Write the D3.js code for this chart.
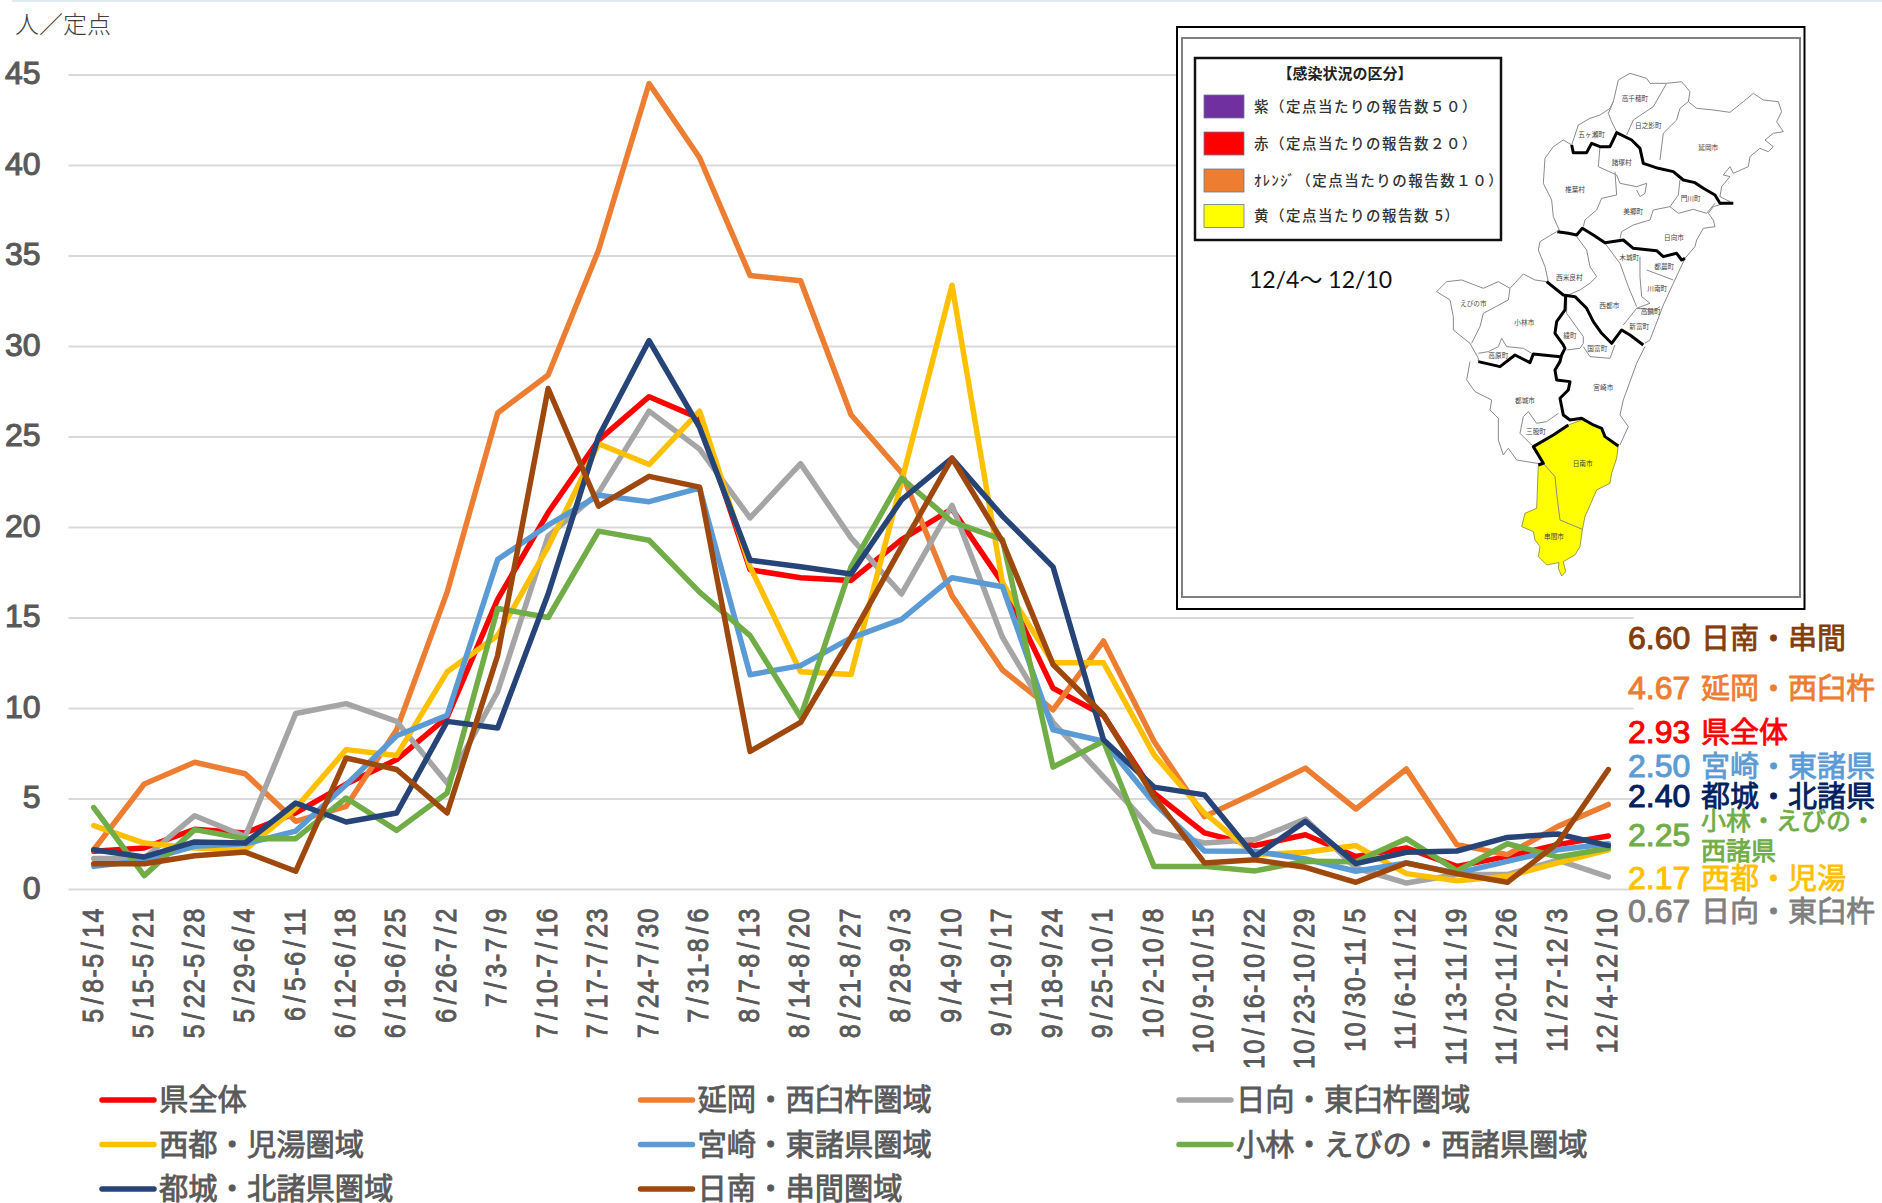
<!doctype html>
<html>
  <head>
    <meta charset="utf-8">
    <title>定点当たり報告数</title>
    <script src="https://d3js.org/d3.v7.min.js"></script>
    <style>
      html, body { margin: 0; padding: 0; background: #fff; }
      svg { display: block; }
      text { font-family: "Liberation Sans", "Noto Sans CJK JP", sans-serif; }
      .cjk { font-family: "Noto Sans CJK JP", sans-serif; }
    </style>
  </head>
  <body>
    <script>
      const categories = [
        '5/8-5/14', '5/15-5/21', '5/22-5/28', '5/29-6/4', '6/5-6/11', '6/12-6/18', '6/19-6/25', '6/26-7/2',
        '7/3-7/9', '7/10-7/16', '7/17-7/23', '7/24-7/30', '7/31-8/6', '8/7-8/13', '8/14-8/20', '8/21-8/27',
        '8/28-9/3', '9/4-9/10', '9/11-9/17', '9/18-9/24', '9/25-10/1', '10/2-10/8', '10/9-10/15', '10/16-10/22',
        '10/23-10/29', '10/30-11/5', '11/6-11/12', '11/13-11/19', '11/20-11/26', '11/27-12/3', '12/4-12/10'
      ];

      const yTicks = [0, 5, 10, 15, 20, 25, 30, 35, 40, 45];

      // 系列ごとの値
      const kenzentai = [2.08, 2.27, 3.3, 3.1, 4.2, 5.8, 7.15, 9.5, 16, 20.8, 24.8, 27.2, 26, 17.64, 17.2, 17.05, 19.3, 21, 16.9, 11.1, 9.6, 5.3, 3.1, 2.4, 3.0, 1.8, 2.27, 1.25, 1.8, 2.45, 2.93];
      const nobeoka = [2.17, 5.8, 7.0, 6.37, 3.74, 4.57, 8.8, 16.4, 26.3, 28.4, 35.3, 44.5, 40.4, 33.9, 33.6, 26.2, 23, 16.2, 12.1, 9.9, 13.7, 8.16, 4.0, 5.3, 6.68, 4.42, 6.63, 2.45, 1.9, 3.46, 4.67];
      const hyuga = [1.68, 1.7, 4.05, 2.9, 9.7, 10.24, 9.26, 5.85, 10.9, 19.5, 21.9, 26.4, 24.3, 20.5, 23.5, 19.4, 16.3, 21.2, 13.9, 9.2, 6.2, 3.2, 2.54, 2.73, 3.87, 1.16, 0.33, 0.8, 0.8, 1.6, 0.67];
      const saito = [3.5, 2.54, 2.27, 2.17, 4.47, 7.7, 7.38, 12, 14, 18.9, 24.6, 23.45, 26.4, 17.8, 12, 11.85, 22.5, 33.36, 16.9, 12.5, 12.5, 7.42, 4.2, 1.9, 2.03, 2.4, 0.85, 0.46, 0.7, 1.44, 2.17];
      const miyazaki = [1.25, 1.58, 2.36, 2.5, 3.2, 5.76, 8.47, 9.6, 18.2, 20.1, 21.75, 21.4, 22.15, 11.84, 12.34, 13.87, 14.9, 17.2, 16.7, 8.8, 8.16, 4.75, 2.1, 2.08, 1.66, 0.98, 1.44, 0.88, 1.53, 2.17, 2.5];
      const kobayashi = [4.5, 0.74, 3.28, 2.78, 2.78, 5.03, 3.24, 5.3, 15.5, 15, 19.77, 19.27, 16.4, 14, 9.5, 17.8, 22.7, 20.3, 19.3, 6.74, 8.16, 1.25, 1.25, 1.0, 1.53, 1.5, 2.78, 1.0, 2.5, 1.77, 2.25];
      const miyakonojo = [2.17, 1.77, 2.6, 2.54, 4.75, 3.7, 4.2, 9.26, 8.9, 16.3, 25, 30.3, 25.5, 18.16, 17.8, 17.4, 21.5, 23.8, 20.6, 17.8, 8.25, 5.63, 5.2, 1.8, 3.74, 1.4, 2.03, 2.1, 2.85, 3.04, 2.4];
      const nichinan = [1.4, 1.4, 1.84, 2.04, 0.98, 7.24, 6.6, 4.2, 12.9, 27.65, 21.15, 22.8, 22.2, 7.6, 9.2, 13.9, 18.9, 23.8, 19.2, 12.4, 9.63, 5.1, 1.44, 1.62, 1.2, 0.37, 1.44, 0.85, 0.37, 2.54, 6.6];

      const legendNames = ['県全体', '延岡・西臼杵圏域', '日向・東臼杵圏域', '西都・児湯圏域', '宮崎・東諸県圏域', '小林・えびの・西諸県圏域', '都城・北諸県圏域', '日南・串間圏域'];
      const seriesValues = [kenzentai, nobeoka, hyuga, saito, miyazaki, kobayashi, miyakonojo, nichinan];
      const lineColors = ['#ff0000', '#ed7d31', '#a5a5a5', '#ffc000', '#5b9bd5', '#70ad47', '#264478', '#9e480e'];

      // 右側の最新値
      const endValues = ['6.60', '4.67', '2.93', '2.50', '2.40', '2.25', '2.17', '0.67'];
      const endNames = [['日南・串間'], ['延岡・西臼杵'], ['県全体'], ['宮崎・東諸県'], ['都城・北諸県'], ['小林・えびの・', '西諸県'], ['西都・児湯'], ['日向・東臼杵']];
      const endColors = ['#843c0c', '#ed7d31', '#ff0000', '#5b9bd5', '#002060', '#70ad47', '#ffc000', '#7f7f7f'];
      const endBaselines = [649, 699, 743, 777, 807, 846, 889, 922];

      // 感染状況の区分
      const levelNames = ['紫（定点当たりの報告数５０）', '赤（定点当たりの報告数２０）', 'ｵﾚﾝｼﾞ（定点当たりの報告数１０）', '黄（定点当たりの報告数 5）'];
      const levelColors = ['#7030a0', '#ff0000', '#ed7d31', '#ffff00'];

      const svgWidth = 1882;
      const svgHeight = 1203;

      const svg = d3.select('body').append('svg')
          .attr('width', svgWidth)
          .attr('height', svgHeight);

      svg.append('rect')
          .attr('x', 12).attr('y', 0)
          .attr('width', svgWidth - 12).attr('height', 2)
          .attr('fill', '#deebf7');

      const x = d3.scaleBand()
          .domain(categories)
          .range([68.5, 1633.6]);

      const y = d3.scaleLinear()
          .domain([0, 45])
          .range([889, 74.5]);

      // y軸と目盛線
      const yAxis = svg.append('g')
          .attr('transform', 'translate(68.5, 0)')
          .call(d3.axisLeft(y).tickValues(yTicks).tickSize(-1565.1).tickPadding(28));
      yAxis.select('.domain').remove();
      yAxis.selectAll('line').attr('stroke', '#d9d9d9').attr('stroke-width', 2);
      yAxis.selectAll('text')
          .attr('dy', '.29em')
          .attr('fill', '#595959')
          .attr('stroke', '#595959')
          .attr('stroke-width', 1.1)
          .style('font-size', '32px');

      // x軸
      const xAxis = svg.append('g')
          .attr('transform', 'translate(0, 889)')
          .call(d3.axisBottom(x).tickSize(0));
      xAxis.select('.domain').remove();
      xAxis.selectAll('text')
          .attr('transform', 'translate(-2, 18) rotate(-90) scale(1, 1.2)')
          .attr('x', 0)
          .attr('y', 0)
          .attr('dy', '.36em')
          .attr('text-anchor', 'end')
          .attr('fill', '#595959')
          .attr('stroke', '#595959')
          .attr('stroke-width', 0.8)
          .style('font-size', '25px')
          .style('letter-spacing', '1.5px')
          .each(function (d) {
            // スラッシュだけ少し広げる
            const t = d3.select(this).text('');
            d.split('/').forEach((part, i) => {
              if (i > 0) t.append('tspan').attr('dx', 3).text('/');
              t.append('tspan').attr('dx', i > 0 ? 3 : 0).text(part);
            });
          });

      svg.append('text')
          .attr('class', 'cjk')
          .attr('x', 15)
          .attr('y', 33)
          .attr('fill', '#404040')
          .style('font-size', '24px')
          .style('font-weight', 300)
          .text('人／定点');

      // 折れ線
      const line = d3.line()
          .x((d, i) => x(categories[i]) + x.bandwidth() / 2)
          .y(d => y(d));

      svg.append('g')
          .selectAll('path')
          .data(seriesValues)
          .enter().append('path')
            .attr('d', line)
            .attr('fill', 'none')
            .attr('stroke', (d, i) => lineColors[i])
            .attr('stroke-width', 5.5)
            .attr('stroke-linecap', 'round')
            .attr('stroke-linejoin', 'round');

      // 凡例
      const legend = svg.append('g')
          .selectAll('g')
          .data(legendNames)
          .enter().append('g')
            .attr('transform', (d, i) => `translate(${100 + (i % 3) * 538.5}, ${1100 + Math.floor(i / 3) * 44.5})`);

      legend.append('line')
          .attr('x1', 2).attr('x2', 54)
          .attr('stroke', (d, i) => lineColors[i])
          .attr('stroke-width', 5.5)
          .attr('stroke-linecap', 'round');

      legend.append('text')
          .attr('class', 'cjk')
          .attr('x', 59)
          .attr('dy', '.35em')
          .attr('fill', '#595959')
          .attr('stroke', '#595959')
          .attr('stroke-width', 0.8)
          .style('font-size', '29.3px')
          .text(d => d);

      // 右側のラベル
      const endLabel = svg.append('g')
          .selectAll('g')
          .data(endValues)
          .enter().append('g')
            .attr('transform', (d, i) => `translate(0, ${endBaselines[i]})`)
            .attr('fill', (d, i) => endColors[i]);

      endLabel.append('text')
          .attr('x', 1628)
          .attr('stroke', (d, i) => endColors[i])
          .attr('stroke-width', 1)
          .style('font-size', '32px')
          .text(d => d);

      endLabel.each(function (d, i) {
        const lines = endNames[i];
        lines.forEach((name, j) => {
          d3.select(this).append('text')
              .attr('class', 'cjk')
              .attr('x', 1701)
              .attr('y', lines.length > 1 ? -16 + j * 30 : 0)
              .attr('stroke', endColors[i])
              .attr('stroke-width', 0.8)
              .style('font-size', lines.length > 1 ? '25px' : '29px')
              .text(name);
        });
      });

      // 右上の地図パネル
      const panel = svg.append('g');
      panel.append('rect')
          .attr('x', 1177).attr('y', 27).attr('width', 627.5).attr('height', 582)
          .attr('fill', '#fff').attr('stroke', '#000').attr('stroke-width', 2);
      panel.append('rect')
          .attr('x', 1182).attr('y', 38).attr('width', 618).attr('height', 559)
          .attr('fill', 'none').attr('stroke', '#808080').attr('stroke-width', 2);
      panel.append('rect')
          .attr('x', 1195).attr('y', 58).attr('width', 306).attr('height', 182)
          .attr('fill', '#fff').attr('stroke', '#111').attr('stroke-width', 2.5);

      panel.append('text')
          .attr('class', 'cjk')
          .attr('x', 1345).attr('y', 79)
          .attr('text-anchor', 'middle')
          .attr('fill', '#222')
          .style('font-size', '15px')
          .style('font-weight', 'bold')
          .text('【感染状況の区分】');

      const levelRows = [95, 132, 169, 204.5];
      levelNames.forEach((name, i) => {
        panel.append('rect')
            .attr('x', 1204).attr('y', levelRows[i]).attr('width', 40).attr('height', 23)
            .attr('fill', levelColors[i]).attr('stroke', '#6b7a90').attr('stroke-width', 0.8);
        panel.append('text')
            .attr('class', 'cjk')
            .attr('x', 1254).attr('y', levelRows[i] + 16.5)
            .attr('fill', '#333')
            .style('font-size', '14.5px')
            .style('font-weight', 500)
            .style('letter-spacing', '1.5px')
            .text(name);
      });

      panel.append('text')
          .attr('x', 1249).attr('y', 288)
          .attr('fill', '#111')
          .style('font-family', 'Lato, "Noto Sans CJK JP", sans-serif')
          .style('font-size', '23px')
          .text('12/4～ 12/10');

      // 宮崎県の地図（手で写した輪郭、単位は3倍）
      const areaYellow = [[445,1125],[485,1110],[520,1125],[545,1135],[555,1160],[595,1188],[590,1225],[575,1270],[570,1300],[530,1320],[515,1355],[495,1400],[487,1440],[480,1490],[465,1515],[430,1535],[437,1565],[425,1578],[415,1555],[417,1538],[380,1545],[355,1520],[360,1490],[345,1470],[340,1445],[305,1430],[315,1390],[350,1375],[355,1245],[370,1240],[340,1190],[400,1155]];
      const thinLines = [
        [[455,285],[430,270],[400,290],[375,325],[370,400],[395,450],[400,500],[420,545]],
        [[455,285],[475,225],[510,205],[540,195],[570,175],[580,155],[595,90],[630,70],[680,85],[690,100],[740,100],[785,95],[810,125],[805,155],[830,175],[880,180],[930,187],[970,155],[1000,130],[1030,150],[1075,155],[1085,185],[1070,215],[1090,245],[1060,250],[1035,270],[1060,290],[1045,305],[1020,295],[990,320],[985,350],[940,370],[930,350],[910,375],[930,380],[905,410],[900,440],[930,455]],
        [[580,155],[565,190],[575,215],[590,245]],
        [[740,100],[700,170],[640,210],[620,255]],
        [[805,155],[780,175],[770,210],[730,250],[720,330]],
        [[540,290],[535,350],[590,375],[600,400],[650,410],[680,400],[675,430],[660,440],[650,420]],
        [[585,365],[590,435],[545,445],[530,480],[495,510],[490,530]],
        [[780,390],[775,435],[750,470],[700,480],[690,510],[640,525],[605,545],[600,565]],
        [[750,470],[775,490],[820,478],[860,490],[885,460]],
        [[930,455],[880,470],[865,490],[880,510],[885,530],[850,535],[830,570],[825,590],[795,625]],
        [[410,545],[360,575],[355,600],[375,650],[385,695]],
        [[470,560],[500,600],[510,650],[530,680],[510,700],[480,720],[445,735]],
        [[555,580],[600,640],[625,710],[650,770]],
        [[660,620],[660,680],[665,740],[690,760],[650,775],[610,825]],
        [[680,660],[760,690]],
        [[795,625],[760,700],[730,765],[690,870],[675,880]],
        [[650,775],[705,780],[720,770]],
        [[380,695],[345,690],[310,672],[270,715],[235,695],[190,715],[125,690],[80,695],[50,725],[90,750],[100,800],[100,840],[150,880],[175,925],[175,935]],
        [[270,715],[265,750],[190,790],[180,830],[155,880]],
        [[440,740],[440,790],[490,860],[490,880],[480,895],[440,900]],
        [[490,890],[510,920],[570,925],[585,885]],
        [[175,910],[205,905],[235,890],[245,865],[260,890],[310,895],[335,910]],
        [[675,890],[650,940],[610,1050],[600,1095],[625,1130],[600,1185]],
        [[150,935],[140,990],[165,1025],[215,1050],[210,1080],[235,1105],[235,1170],[250,1215],[265,1195],[290,1230],[350,1240],[365,1240]],
        [[335,1185],[300,1150],[310,1100],[325,1085],[350,1120],[380,1115],[415,1090]],
        [[370,1240],[405,1280],[410,1330],[420,1410],[487,1438]]
      ];
      const thickLines = [
        [[455,285],[460,308],[500,308],[515,280],[540,290],[570,290],[590,248],[635,270],[660,295],[670,340],[715,355],[760,365],[790,390],[825,398],[850,415],[885,435],[900,460],[940,460]],
        [[412,545],[445,550],[470,555],[487,535],[520,555],[555,578],[610,570],[640,595],[710,602],[730,620],[770,610],[785,630],[795,625]],
        [[380,695],[430,735],[465,740],[500,775],[520,815],[545,850],[575,880],[605,840],[630,855],[670,885]],
        [[437,738],[435,780],[410,815],[405,850],[430,885],[435,895],[425,915],[420,935],[405,960],[410,990],[450,995],[445,1020],[420,1045],[430,1095],[450,1110],[485,1105],[520,1125],[545,1135],[555,1160],[595,1188]],
        [[175,935],[240,950],[285,915],[330,938],[340,912],[420,920]],
        [[445,1125],[400,1155],[340,1190],[370,1240],[355,1245]]
      ];
      const mapNames = ['高千穂町', '日之影町', '五ヶ瀬町', '延岡市', '諸塚村', '椎葉村', '門川町', '美郷町', '日向市', '木城町', '都農町', '西米良村', '川南町', '西都市', '高鍋町', '新富町', 'えびの市', '小林市', '綾町', '国富町', '高原町', '宮崎市', '都城市', '三股町', '日南市', '串間市'];
      const mapNamePlaces = [[645,147],[685,228],[515,255],[865,292],[605,338],[465,420],[812,446],[640,485],[762,562],[628,622],[733,650],[448,682],[712,716],[568,766],[692,786],[658,829],[160,762],[313,817],[450,858],[532,895],[235,918],[550,1012],[315,1053],[348,1145],[488,1241],[402,1461]];

      const map = panel.append('g')
          .attr('transform', 'translate(1420, 50) scale(0.3333)');
      const mapLine = d3.line();

      map.append('path')
          .attr('d', mapLine(areaYellow) + 'Z')
          .attr('fill', '#ffff00')
          .attr('stroke', '#6b6b30')
          .attr('stroke-width', 2);
      map.append('g').selectAll('path')
          .data(thinLines)
          .enter().append('path')
            .attr('d', mapLine)
            .attr('fill', 'none')
            .attr('stroke', '#8a8a8a')
            .attr('stroke-width', 3);
      map.append('g').selectAll('path')
          .data(thickLines)
          .enter().append('path')
            .attr('d', mapLine)
            .attr('fill', 'none')
            .attr('stroke', '#000')
            .attr('stroke-width', 9)
            .attr('stroke-linejoin', 'round');
      map.append('g').selectAll('text')
          .data(mapNames)
          .enter().append('text')
            .attr('class', 'cjk')
            .attr('x', (d, i) => mapNamePlaces[i][0])
            .attr('y', (d, i) => mapNamePlaces[i][1])
            .attr('dy', '.36em')
            .attr('text-anchor', 'middle')
            .attr('fill', '#444')
            .style('font-size', '20px')
            .text(d => d);
    </script>
  </body>
</html>
